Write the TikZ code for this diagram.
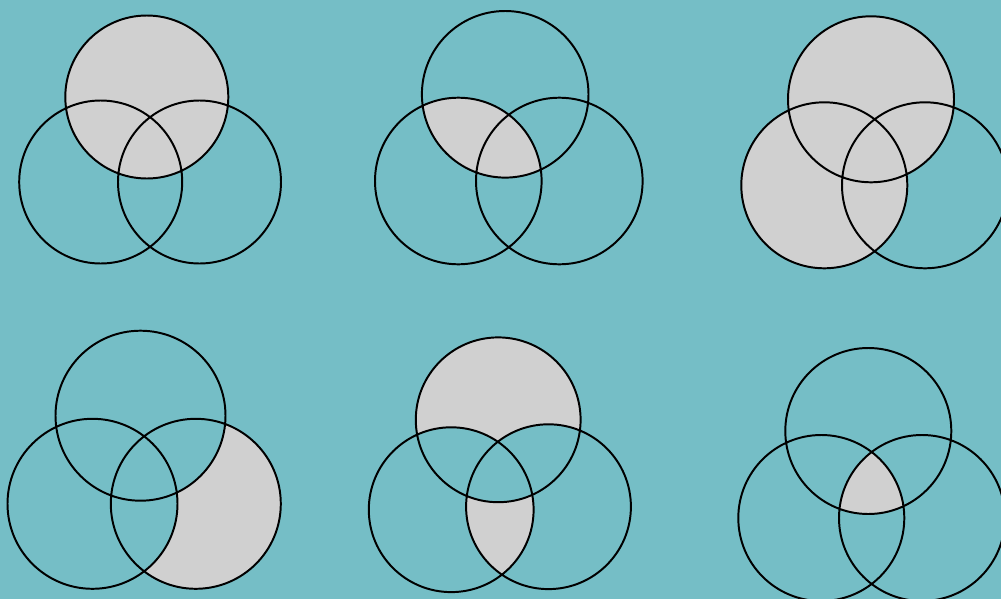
\documentclass[tikz,border=0pt]{standalone}
\definecolor{bgteal}{RGB}{117,190,198}
\definecolor{setgray}{RGB}{208,208,208}
\tikzset{
  ring/.style={line width=1.4pt},
  part/.style={fill=setgray},
  blank/.style={fill=bgteal}
}
\begin{document}
\begin{tikzpicture}[x=0.025cm, y=-0.025cm, line cap=round, line join=round]

% Background
\fill[bgteal] (0,0) rectangle (1001,599);
\useasboundingbox (0,0) rectangle (1001,599);

% --- Centres of the three sets (A top, B left, C right) ---
\coordinate (A1) at (146.8,97);   \coordinate (B1) at (100.7,182); \coordinate (C1) at (199.5,182);
\coordinate (A2) at (505.2,94.3); \coordinate (B2) at (458.3,181); \coordinate (C2) at (559.3,181);
\coordinate (A3) at (871,99.3);   \coordinate (B3) at (824.3,185.3); \coordinate (C3) at (925,185.3);
\coordinate (A4) at (140.5,415.7); \coordinate (B4) at (92.5,503.8); \coordinate (C4) at (195.8,503.8);
\coordinate (A5) at (498.2,419.8); \coordinate (B5) at (451.2,509.7); \coordinate (C5) at (548.5,506.7);
\coordinate (A6) at (868.3,431);  \coordinate (B6) at (821.3,518); \coordinate (C6) at (922,518);

% --- 1: A ---
\def\R{81.5}
\fill[part] (A1) circle (\R);
\draw[ring] (A1) circle (\R) (B1) circle (\R) (C1) circle (\R);

% --- 2: A cap B ---
\def\R{83.3}
\begin{scope}
  \clip (A2) circle (\R);
  \fill[part] (B2) circle (\R);
\end{scope}
\draw[ring] (A2) circle (\R) (B2) circle (\R) (C2) circle (\R);

% --- 3: A cup B ---
\def\R{83}
\fill[part] (A3) circle (\R) (B3) circle (\R);
\draw[ring] (A3) circle (\R) (B3) circle (\R) (C3) circle (\R);

% --- 4: C only ---
\def\R{85}
\fill[part] (C4) circle (\R);
\fill[blank] (A4) circle (\R) (B4) circle (\R);
\draw[ring] (A4) circle (\R) (B4) circle (\R) (C4) circle (\R);

% --- 5: A only, and B cap C outside A ---
\def\R{82.4}
\fill[part] (A5) circle (\R);
\fill[blank] (B5) circle (\R) (C5) circle (\R);
\begin{scope}
  \clip (B5) circle (\R);
  \clip (C5) circle (\R);
  \fill[part] (B5) circle (\R);
  \fill[blank] (A5) circle (\R);
\end{scope}
\draw[ring] (A5) circle (\R) (B5) circle (\R) (C5) circle (\R);

% --- 6: A cap B cap C ---
\def\R{83}
\begin{scope}
  \clip (A6) circle (\R);
  \clip (B6) circle (\R);
  \fill[part] (C6) circle (\R);
\end{scope}
\draw[ring] (A6) circle (\R) (B6) circle (\R) (C6) circle (\R);

\end{tikzpicture}
\end{document}
